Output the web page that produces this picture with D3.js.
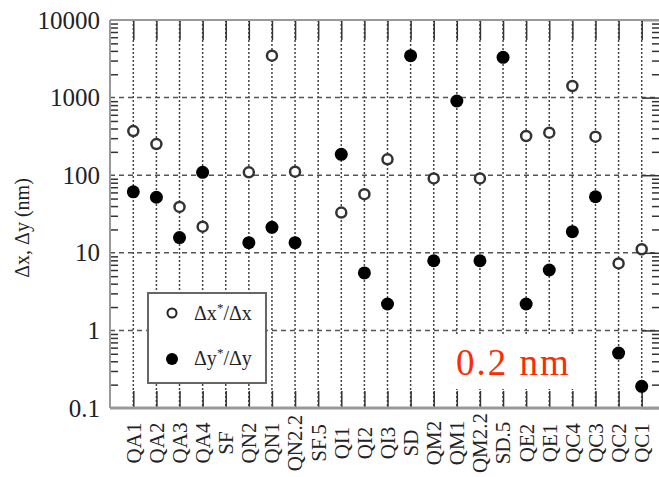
<!DOCTYPE html>
<html>
<head>
<meta charset="utf-8">
<script src="https://cdn.jsdelivr.net/npm/d3@7"></script>
<style>
  body { margin: 0; background: #fff; }
  svg { display: block; }
  svg text { font-family: "Liberation Serif", "Times New Roman", Tinos, serif; }
</style>
</head>
<body>
<div id="chart"></div>
<script>
const categories = ['QA1', 'QA2', 'QA3', 'QA4', 'SF', 'QN2', 'QN1', 'QN2.2', 'SF.5', 'QI1', 'QI2', 'QI3',
  'SD', 'QM2', 'QM1', 'QM2.2', 'SD.5', 'QE2', 'QE1', 'QC4', 'QC3', 'QC2', 'QC1'];
// Δx*/Δx (open circles), null where no point
const dxRatio = [370, 252, 39, 21.7, null, 109, 3470, 111, null, 33, 57, 160,
  null, 91, null, 91, null, 320, 353, 1410, 314, 7.3, 11.1];
// Δy*/Δy (filled circles)
const dyRatio = [61, 52, 15.7, 109, null, 13.5, 21.3, 13.5, null, 186, 5.5, 2.19,
  3470, 7.9, 904, 7.9, 3300, 2.19, 6.0, 18.7, 52.8, 0.51, 0.19];
const yTicks = [0.1, 1, 10, 100, 1000, 10000];
const yTickLabels = ['0.1', '1', '10', '100', '1000', '10000'];

const width = 659, height = 477;
const plot = { left: 110, right: 661, top: 20, bottom: 408 };

const svg = d3.select('#chart').append('svg').attr('width', width).attr('height', height);

const x = d3.scalePoint().domain(categories).range([133.3, 641.7]);
const y = d3.scaleLog().domain([0.1, 10000]).range([plot.bottom, plot.top]);

// grid
svg.append('g')
  .selectAll('line')
  .data(categories)
  .join('line')
  .attr('x1', d => x(d)).attr('x2', d => x(d))
  .attr('y1', plot.top).attr('y2', plot.bottom)
  .attr('stroke', '#444').attr('stroke-width', 1.5).attr('stroke-dasharray', '2,2');

svg.append('g')
  .selectAll('line')
  .data(yTicks.slice(1, -1))
  .join('line')
  .attr('x1', plot.left).attr('x2', plot.right)
  .attr('y1', d => y(d)).attr('y2', d => y(d))
  .attr('stroke', '#555').attr('stroke-width', 1.5).attr('stroke-dasharray', '5,4');

// minor log ticks
const minors = [];
yTicks.slice(0, -1).forEach(d => { for (let k = 2; k <= 9; k++) minors.push(d * k); });

const tickStyle = g => {
  g.select('.domain').remove();
  g.selectAll('.tick line').attr('stroke', '#333').attr('stroke-width', 1.5);
  g.selectAll('.tick text').remove();
};

svg.append('g').attr('transform', `translate(${plot.left},0)`)
  .call(d3.axisRight(y).tickValues(minors).tickSize(8)).call(tickStyle);
svg.append('g').attr('transform', `translate(${plot.right},0)`)
  .call(d3.axisLeft(y).tickValues(minors).tickSize(9)).call(tickStyle);
svg.append('g').attr('transform', `translate(${plot.right},0)`)
  .call(d3.axisLeft(y).tickValues(yTicks).tickSize(19)).call(tickStyle);

// category ticks top and bottom
svg.append('g').attr('transform', `translate(0,${plot.bottom})`)
  .call(d3.axisTop(x).tickSize(17)).call(tickStyle);
svg.append('g').attr('transform', `translate(0,${plot.top})`)
  .call(d3.axisBottom(x).tickSize(20)).call(tickStyle);

// frame
svg.append('line').attr('x1', plot.left).attr('x2', plot.left).attr('y1', plot.top).attr('y2', plot.bottom)
  .attr('stroke', '#999').attr('stroke-width', 2);
svg.append('line').attr('x1', plot.left).attr('x2', plot.right).attr('y1', plot.top).attr('y2', plot.top)
  .attr('stroke', '#999').attr('stroke-width', 2);
svg.append('line').attr('x1', plot.left).attr('x2', plot.right).attr('y1', plot.bottom).attr('y2', plot.bottom)
  .attr('stroke', '#999').attr('stroke-width', 3);

// y tick labels
const yAxis = svg.append('g').attr('transform', `translate(${plot.left},0)`)
  .call(d3.axisLeft(y).tickValues(yTicks).tickSize(0).tickPadding(10)
    .tickFormat((d, i) => yTickLabels[i]));
yAxis.select('.domain').remove();
yAxis.selectAll('text')
  .attr('font-size', 25)
  .attr('fill', '#222');

// y title
svg.append('text')
  .attr('transform', 'translate(29,228) rotate(-90)')
  .attr('text-anchor', 'middle')
  .attr('font-size', 20)
  .attr('fill', '#222')
  .text('Δx, Δy (nm)');

// x labels
svg.append('g')
  .selectAll('text')
  .data(categories)
  .join('text')
  .attr('transform', d => `translate(${x(d)},443) rotate(-90)`)
  .attr('text-anchor', 'middle')
  .attr('dy', '0.35em')
  .attr('font-size', 21)
  .attr('fill', '#222')
  .text(d => d);

// points
const dxPts = categories.map((c, i) => ({ c, v: dxRatio[i] })).filter(d => d.v != null);
const dyPts = categories.map((c, i) => ({ c, v: dyRatio[i] })).filter(d => d.v != null);

svg.append('g').selectAll('circle').data(dxPts).join('circle')
  .attr('cx', d => x(d.c)).attr('cy', d => y(d.v)).attr('r', 5)
  .attr('fill', '#fff').attr('stroke', '#333').attr('stroke-width', 2.5);

svg.append('g').selectAll('circle').data(dyPts).join('circle')
  .attr('cx', d => x(d.c)).attr('cy', d => y(d.v)).attr('r', 6.5)
  .attr('fill', '#000');

// legend
const legend = svg.append('g');
legend.append('rect').attr('x', 148).attr('y', 293).attr('width', 118).attr('height', 90)
  .attr('fill', '#fff').attr('stroke', '#666').attr('stroke-width', 2);
legend.append('circle').attr('cx', 172).attr('cy', 313).attr('r', 4.5)
  .attr('fill', '#fff').attr('stroke', '#222').attr('stroke-width', 2);
legend.append('circle').attr('cx', 172).attr('cy', 359).attr('r', 6)
  .attr('fill', '#000');
const l1 = legend.append('text').attr('x', 194).attr('y', 320).attr('font-size', 20).attr('fill', '#222');
l1.append('tspan').text('Δx');
l1.append('tspan').attr('dy', -8).attr('font-size', 13).text('*');
l1.append('tspan').attr('dy', 8).text('/Δx');
const l2 = legend.append('text').attr('x', 194).attr('y', 365).attr('font-size', 20).attr('fill', '#222');
l2.append('tspan').text('Δy');
l2.append('tspan').attr('dy', -8).attr('font-size', 13).text('*');
l2.append('tspan').attr('dy', 8).text('/Δy');

// annotation
svg.append('rect').attr('x', 447).attr('y', 334).attr('width', 137).attr('height', 55).attr('fill', '#fff');
svg.append('text')
  .attr('x', 456).attr('y', 375)
  .attr('font-size', 37)
  .attr('letter-spacing', 2)
  .attr('fill', '#ff2a00')
  .text('0.2 nm');
</script>
</body>
</html>
